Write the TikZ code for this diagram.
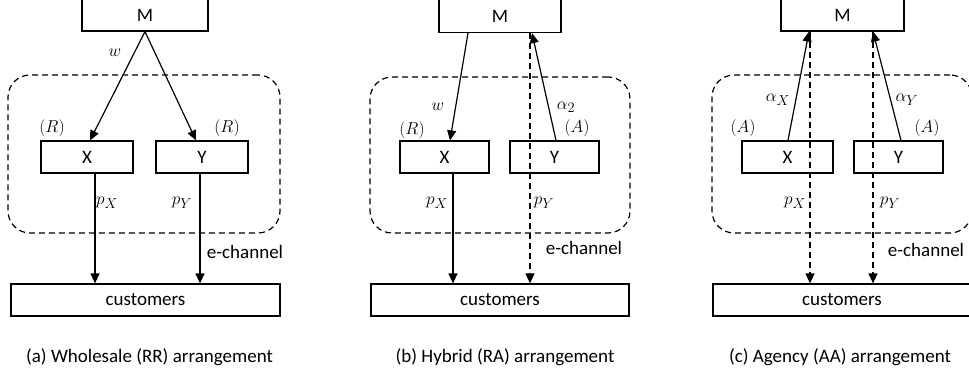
\documentclass[tikz,border=0pt]{standalone}
\usepackage{fontspec}
\setmainfont{Carlito}
\usetikzlibrary{arrows.meta}
\tikzstyle{box} = [rectangle, draw=black, line width=1.2pt, inner sep=0pt, minimum height=32pt, text centered]
\tikzstyle{group} = [rectangle, draw=black, line width=1.2pt, dash pattern=on 6pt off 4pt, rounded corners=22pt, inner sep=0pt]
\tikzstyle{arrow} = [line width=1.2pt, -{Triangle[length=10pt,width=9pt]}]
\tikzstyle{echannel} = [arrow, dash pattern=on 6pt off 4pt]
\tikzstyle{lbl} = [inner sep=0pt]

\begin{document}
\begin{tikzpicture}[x=1pt, y=-1pt, font=\fontsize{19}{22}\selectfont]
\useasboundingbox (0,0) rectangle (969,374);

% (a) wholesale
\node (grpa) [group, minimum width=272pt, minimum height=158pt] at (144,154) {};
\node (Ma) [box, minimum width=126pt] at (145,15) {M};
\node (Xa) [box, minimum width=92pt] at (87,157) {X};
\node (Ya) [box, minimum width=92pt] at (202,157) {Y};
\node (custa) [box, minimum width=269pt] at (145.5,300) {customers};
\node (wa) [lbl] at (115,53) {$w$};
\node (rxa) [lbl] at (52,128) {$(R)$};
\node (rya) [lbl] at (227,128) {$(R)$};
\node (pxa) [lbl] at (107,203) {$p_X$};
\node (pya) [lbl] at (182,203) {$p_Y$};
\node (eca) [lbl] at (245,252) {e-channel};
\node (capa) [lbl] at (149.5,357) {(a) Wholesale (RR) arrangement};

\draw [arrow] (Ma.south) -- ([xshift=3pt]Xa.north);
\draw [arrow] (Ma.south) -- ([xshift=-6pt]Ya.north);
\draw [arrow] ([xshift=8pt]Xa.south) -- ([xshift=8pt]Xa.south |- custa.north);
\draw [arrow] ([xshift=-2pt]Ya.south) -- ([xshift=-2pt]Ya.south |- custa.north);

% (b) hybrid
\node (grpb) [group, minimum width=260pt, minimum height=156pt] at (500,155) {};
\node (Mb) [box, minimum width=122pt, minimum height=33pt] at (500,16) {M};
\node (Xb) [box, minimum width=89pt] at (444.5,157) {X};
\node (Yb) [box, minimum width=89pt] at (554.5,157) {Y};
\node (custb) [box, minimum width=258pt] at (500,300) {customers};
\node (wb) [lbl] at (438,107) {$w$};
\node (rxb) [lbl] at (412,130) {$(R)$};
\node (alb) [lbl] at (566,107) {$\alpha_2$};
\node (ayb) [lbl] at (577,128) {$(A)$};
\node (pxb) [lbl] at (437,203) {$p_X$};
\node (pyb) [lbl] at (544,203) {$p_Y$};
\node (ecb) [lbl] at (584,248) {e-channel};
\node (capb) [lbl] at (505,357) {(b) Hybrid (RA) arrangement};

\draw [arrow] ([xshift=-32pt]Mb.south) -- ([xshift=5.5pt]Xb.north);
\draw [arrow] ([xshift=1.5pt]Yb.north) -- ([xshift=32pt]Mb.south);
\draw [echannel] ([xshift=30pt]Mb.south) -- ([xshift=30pt]Mb.south |- custb.north);
\draw [arrow] ([xshift=8.5pt]Xb.south) -- ([xshift=8.5pt]Xb.south |- custb.north);

% (c) agency
\node (grpc) [group, minimum width=260pt, minimum height=158pt] at (842,154) {};
\node (Mc) [box, minimum width=123pt] at (842.5,15) {M};
\node (Xc) [box, minimum width=91pt] at (787.5,157) {X};
\node (Yc) [box, minimum width=89pt] at (898.5,157) {Y};
\node (custc) [box, minimum width=258pt] at (842,300) {customers};
\node (alxc) [lbl] at (778,100) {$\alpha_X$};
\node (alyc) [lbl] at (907,100) {$\alpha_Y$};
\node (axc) [lbl] at (743,128) {$(A)$};
\node (ayc) [lbl] at (927,128) {$(A)$};
\node (pxc) [lbl] at (795,203) {$p_X$};
\node (pyc) [lbl] at (890,203) {$p_Y$};
\node (ecc) [lbl] at (926,250) {e-channel};
\node (capc) [lbl] at (840,357) {(c) Agency (AA) arrangement};

\draw [arrow] ([xshift=0.5pt]Xc.north) -- ([xshift=-33.5pt]Mc.south);
\draw [arrow] ([xshift=2.5pt]Yc.north) -- ([xshift=30.5pt]Mc.south);
\draw [echannel] ([xshift=-32.5pt]Mc.south) -- ([xshift=-32.5pt]Mc.south |- custc.north);
\draw [echannel] ([xshift=30.5pt]Mc.south) -- ([xshift=30.5pt]Mc.south |- custc.north);

\end{tikzpicture}
\end{document}
